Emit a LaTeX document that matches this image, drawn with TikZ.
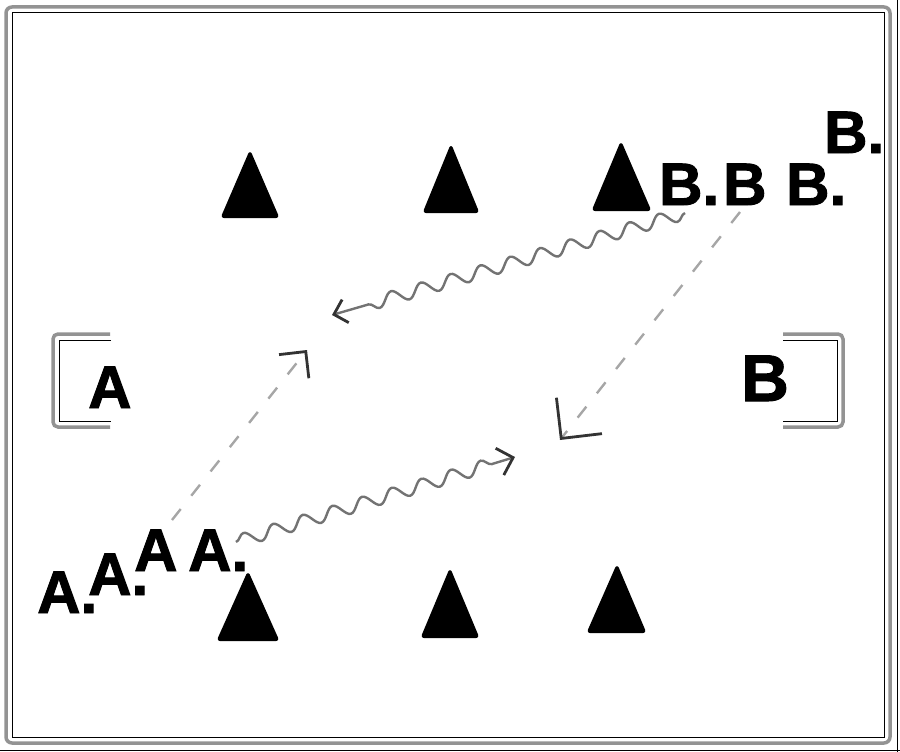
\documentclass[tikz,border=0pt]{standalone}
\usepackage{fontspec}
\setmainfont{Liberation Sans}
\newfontfamily\playerfont{Liberation Sans Bold}[FakeBold=1.6]
\usetikzlibrary{arrows.meta,decorations.pathmorphing}
\begin{document}
\begin{tikzpicture}[x=1pt,y=-1pt,
  player/.style={inner sep=0pt, anchor=base west, font=\playerfont\fontsize{60}{60}\selectfont},
  cone/.style={fill=black, draw=black, line width=2pt, line join=round, rounded corners=2pt},
  runline/.style={draw=gray!70, line width=2.4pt, dash pattern=on 14pt off 17pt},
  dribble/.style={draw=black!55, line width=2.4pt, decorate,
    decoration={snake, segment length=31pt, amplitude=6.5pt, post length=24pt}},
  goalbar/.style={draw=gray!85, line width=3.5pt, rounded corners=5pt},
  thinline/.style={draw=black, line width=0.7pt},
  ]
\useasboundingbox (0,0) rectangle (900,752);
% frame
\draw[draw=gray!85, line width=3.5pt, rounded corners=6pt] (6,7) rectangle (890,743);
\draw[thinline, line width=1pt] (12,13) rectangle (884,737);
\draw[thinline] (0,750) -- (900,750);
\draw[thinline] (897,0) -- (897,752);
% goals
\draw[goalbar] (110,334) -- (53,334) -- (53,427) -- (110,427);
\draw[thinline] (111,340) -- (59,340) -- (59,421) -- (111,421);
\draw[goalbar] (783,334) -- (843,334) -- (843,427) -- (783,427);
\draw[thinline] (783,340) -- (837,340) -- (837,421) -- (783,421);
\node[player] (goalA) at (88,408) {A};
\node[player, font=\playerfont\fontsize{66}{66}\selectfont] (goalB) at (741,401) {B};
% cones
\draw[cone] (250,152) -- (222,217) -- (278,217) -- cycle;
\draw[cone] (451,146) -- (424,212) -- (478,212) -- cycle;
\draw[cone] (621,143) -- (593,210) -- (650,210) -- cycle;
\draw[cone] (248,573) -- (218,640) -- (278,640) -- cycle;
\draw[cone] (450,570) -- (422,637) -- (478,637) -- cycle;
\draw[cone] (617,566) -- (588,632) -- (645,632) -- cycle;
% players A
\node[player] (A1) at (37,613) {A.};
\node[player] (A2) at (88,595) {A.};
\node[player] (A3) at (134,571) {A};
\node[player] (A4) at (188,571) {A.};
% players B
\node[player] (B1) at (659,205) {B.};
\node[player] (B2) at (723,205) {B};
\node[player] (B3) at (786,205) {B.};
\node[player] (B4) at (824,153) {B.};
% arrow end points
\coordinate (s1) at (172,520);
\coordinate (e1) at (307,350);
\coordinate (s2) at (236,542);
\coordinate (e2) at (515,457);
\coordinate (s3) at (685,213);
\coordinate (e3) at (332,315);
\coordinate (s4) at (740,212);
\coordinate (e4) at (560,440);
% runs
\draw[runline, -{Straight Barb[length=19pt, width=38pt, line width=2.8pt, color=black!80]}] (s1) -- (e1);
\draw[runline, -{Straight Barb[length=29pt, width=58pt, line width=2.8pt, color=black!80]}] (s4) -- (e4);
% dribbles
\draw[dribble, -{Straight Barb[length=14pt, width=28pt, line width=2.8pt, color=black!80]}] (s2) -- (e2);
\draw[dribble, -{Straight Barb[length=12pt, width=24pt, line width=2.8pt, color=black!80]}] (s3) -- (e3);
\end{tikzpicture}
\end{document}
